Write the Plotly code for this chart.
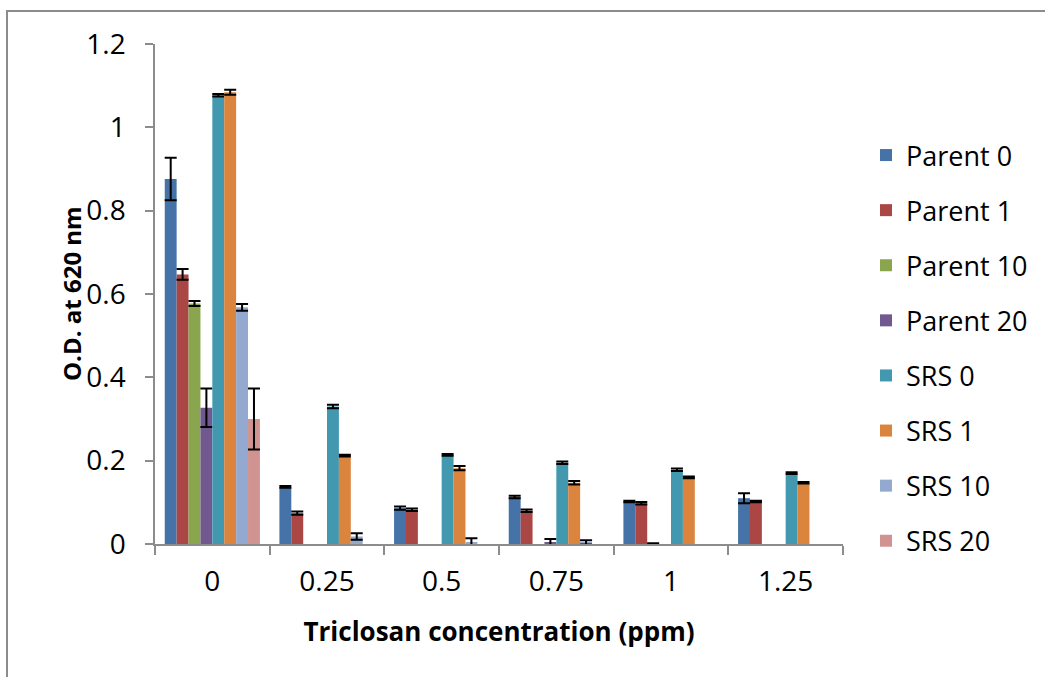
import plotly.graph_objects as go

# Triclosan concentrations on the x axis
categories = ["0", "0.25", "0.5", "0.75", "1", "1.25"]

# Optical density at 620 nm for each strain / pre-exposure level
# (None = no growth recorded, no bar drawn)
series_names = ["Parent 0", "Parent 1", "Parent 10", "Parent 20",
                "SRS 0", "SRS 1", "SRS 10", "SRS 20"]

parent_0 = [0.876, 0.137, 0.086, 0.113, 0.102, 0.110]
parent_1 = [0.647, 0.074, 0.082, 0.080, 0.098, 0.102]
parent_10 = [0.577, None, None, None, 0.001, None]
parent_20 = [0.327, None, None, 0.003, None, None]
srs_0 = [1.077, 0.330, 0.214, 0.195, 0.178, 0.170]
srs_1 = [1.084, 0.212, 0.182, 0.147, 0.160, 0.147]
srs_10 = [0.568, 0.018, 0.004, 0.004, None, None]
srs_20 = [0.300, None, None, None, None, None]

# Standard errors
parent_0_err = [0.051, 0.002, 0.004, 0.003, 0.002, 0.012]
parent_1_err = [0.013, 0.004, 0.003, 0.003, 0.003, 0.002]
parent_10_err = [0.006, 0, 0, 0, 0.001, 0]
parent_20_err = [0.046, 0, 0, 0.009, 0, 0]
srs_0_err = [0.003, 0.004, 0.002, 0.003, 0.003, 0.002]
srs_1_err = [0.006, 0.002, 0.005, 0.004, 0.002, 0.002]
srs_10_err = [0.008, 0.008, 0.010, 0.005, 0, 0]
srs_20_err = [0.073, 0, 0, 0, 0, 0]

series_values = [parent_0, parent_1, parent_10, parent_20,
                 srs_0, srs_1, srs_10, srs_20]
series_errors = [parent_0_err, parent_1_err, parent_10_err, parent_20_err,
                 srs_0_err, srs_1_err, srs_10_err, srs_20_err]
series_colors = ["#4572A7", "#AA4643", "#89A54E", "#71588F",
                 "#4198AF", "#DB843D", "#93A9CF", "#D19392"]

y_ticks = [0, 0.2, 0.4, 0.6, 0.8, 1, 1.2]

FONT = "Open Sans"
AXIS_GREY = "#8c8c8c"

fig = go.Figure()
for name, vals, errs, col in zip(series_names, series_values,
                                 series_errors, series_colors):
    fig.add_trace(go.Bar(
        name=name,
        x=categories,
        y=vals,
        marker=dict(color=col, line=dict(width=0)),
        legendgroup=name,
        error_y=dict(type="data", array=errs, visible=True,
                     color="black", thickness=2, width=6),
    ))

# plot area geometry in pixels (used for the outer chart frame)
W, H = 1045, 677
ML, MR, MT, MB = 155, 202, 44, 133
pw, ph = W - ML - MR, H - MT - MB


def px_x(px):
    return (px - ML) / pw


def px_y(py):
    return (H - MB - py) / ph


fig.update_layout(
    width=W, height=H,
    margin=dict(l=ML, r=MR, t=MT, b=MB, pad=0),
    paper_bgcolor="white",
    plot_bgcolor="white",
    barmode="group",
    bargap=0.17,
    bargroupgap=0,
    font=dict(family=FONT, color="black", size=27),
    showlegend=True,
    legend=dict(
        x=px_x(866), xanchor="left",
        y=px_y(131), yanchor="top",
        font=dict(family=FONT, size=27, color="black"),
        tracegroupgap=17,
        bgcolor="rgba(0,0,0,0)",
    ),
    xaxis=dict(
        type="category",
        showgrid=False,
        showline=True, linecolor=AXIS_GREY, linewidth=1.5,
        ticks="outside", tickson="boundaries", ticklen=9,
        tickcolor=AXIS_GREY, tickwidth=1.5,
        tickfont=dict(family=FONT, size=28),
        ticklabelstandoff=12,
        title=dict(text="<b>Triclosan concentration (ppm)</b>",
                   font=dict(family=FONT, size=26), standoff=24),
    ),
    yaxis=dict(
        range=[0, 1.2],
        tickvals=y_ticks,
        showgrid=False, zeroline=False,
        showline=True, linecolor=AXIS_GREY, linewidth=1.5,
        ticks="outside", ticklen=8,
        tickcolor=AXIS_GREY, tickwidth=1.5,
        tickfont=dict(family=FONT, size=28),
        ticklabelstandoff=14,
    ),
    annotations=[dict(
        text="<b>O.D. at 620 nm</b>",
        xref="paper", yref="paper",
        x=px_x(71), y=0.5, xanchor="center", yanchor="middle",
        textangle=-90, showarrow=False,
        font=dict(family=FONT, size=24, color="black"),
    )],
    shapes=[dict(
        type="rect", xref="paper", yref="paper",
        x0=px_x(7), y0=px_y(700), x1=px_x(1060), y1=px_y(11),
        line=dict(color=AXIS_GREY, width=2), fillcolor="rgba(0,0,0,0)",
        layer="below",
    )],
)

fig.write_html("out.html")
